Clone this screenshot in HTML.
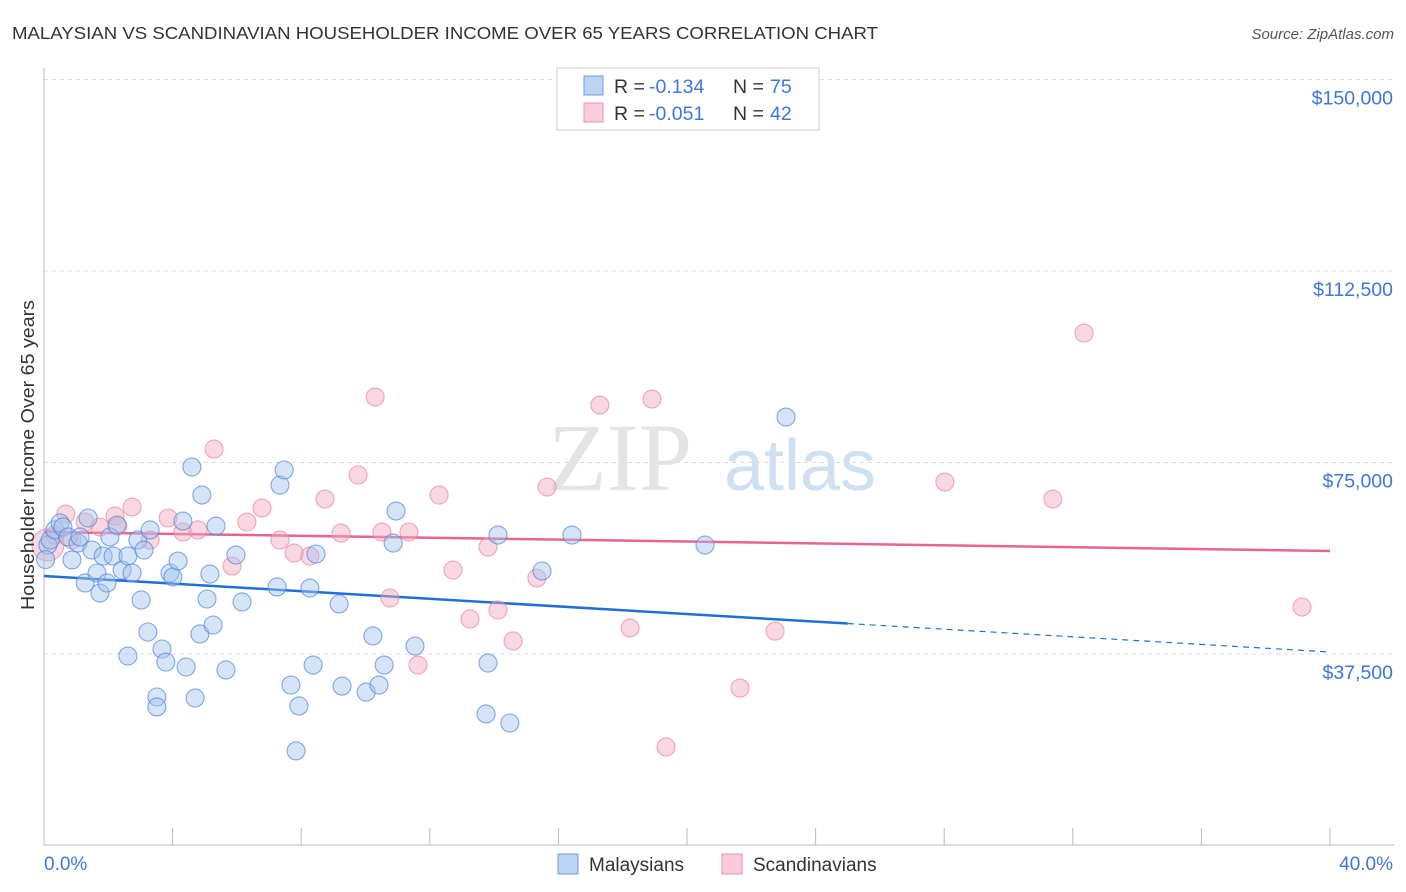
<!DOCTYPE html>
<html><head><meta charset="utf-8"><style>
body{margin:0;background:#fff;font-family:"Liberation Sans",sans-serif;}
svg{display:block}
</style></head><body>
<svg id="chart" width="1406" height="892" xmlns="http://www.w3.org/2000/svg">
<text x="12" y="39" font-size="17.5" fill="#333" textLength="866" lengthAdjust="spacingAndGlyphs">MALAYSIAN VS SCANDINAVIAN HOUSEHOLDER INCOME OVER 65 YEARS CORRELATION CHART</text>
<text x="1394" y="39" font-size="15" fill="#555" text-anchor="end" font-style="italic">Source: ZipAtlas.com</text>
<text x="620" y="490" font-size="96" fill="#e4e4e4" font-family="Liberation Serif,serif" text-anchor="middle">ZIP</text>
<text x="800" y="490" font-size="72" fill="#cfe0f3" text-anchor="middle">atlas</text>
<g id="grid"></g>
<g id="axes"></g>
<g id="trend"></g>
<g id="points"></g>
<text x="34" y="455" font-size="18" fill="#333" text-anchor="middle" textLength="310" lengthAdjust="spacingAndGlyphs" transform="rotate(-90 34 455)">Householder Income Over 65 years</text>
<g>
<rect x="557" y="68" width="262" height="62" fill="#fff" stroke="#ccc"/>
<rect x="584" y="76" width="19" height="19" fill="#bcd4f3" stroke="#6b9de0"/>
<text x="614" y="93" font-size="19.5" fill="#333">R =</text>
<text x="649" y="93" font-size="19.5" fill="#3b78d8">-0.134</text>
<text x="733" y="93" font-size="19.5" fill="#333">N =</text>
<text x="770" y="93" font-size="19.5" fill="#3b78d8">75</text>
<rect x="584" y="103" width="19" height="19" fill="#f8cdd9" stroke="#ec93ad"/>
<text x="614" y="120" font-size="19.5" fill="#333">R =</text>
<text x="649" y="120" font-size="19.5" fill="#3b78d8">-0.051</text>
<text x="733" y="120" font-size="19.5" fill="#333">N =</text>
<text x="770" y="120" font-size="19.5" fill="#3b78d8">42</text>
</g>
<g>
<rect x="558" y="854" width="20" height="20" fill="#bcd4f3" stroke="#6b9de0"/>
<text x="589" y="871" font-size="19" fill="#333">Malaysians</text>
<rect x="722" y="854" width="20" height="20" fill="#f8cdd9" stroke="#ec93ad"/>
<text x="753" y="871" font-size="19" fill="#333">Scandinavians</text>
</g>
</svg>
<script>
const yTicks=[37500,75000,112500,150000];
const yTickLabels=["$37,500","$75,000","$112,500","$150,000"];
const xTickLabels=["0.0%","40.0%"];
const malaysianX=[0.12,0.19,0.34,0.50,0.59,0.75,0.87,1.06,1.12,1.28,1.37,1.49,1.65,1.74,1.84,1.96,2.05,2.15,2.27,2.43,2.61,2.61,2.74,2.92,3.02,3.11,3.23,3.30,3.51,3.51,3.67,3.79,3.92,4.01,4.17,4.32,4.42,4.60,4.70,4.85,4.91,5.07,5.16,5.26,5.35,5.66,5.97,6.16,7.25,7.34,7.47,7.68,7.84,7.93,8.27,8.37,8.46,9.18,9.27,10.02,10.23,10.42,10.58,10.86,10.95,11.54,13.75,13.81,14.12,14.49,15.49,16.42,20.56,23.08,0.05];
const malaysianY=[58850,59830,61790,63160,62380,60420,55920,59230,60420,51410,64130,57860,53360,49440,56680,51410,60420,56680,62760,53940,56680,37100,53360,59830,48080,57860,41810,61790,29080,27130,38480,35930,53360,52580,55700,63530,34950,74110,28880,41420,68630,48270,53160,43180,62560,34370,56880,47690,50630,70590,73530,31420,18520,27330,50420,35340,57080,47300,31220,30040,41030,31420,35340,59230,65500,39060,25760,35730,60800,23990,53750,60800,58840,83900,56000];
const scandX=[0.12,0.34,0.68,0.87,1.28,1.74,2.21,2.30,2.74,3.30,3.86,4.32,4.79,5.29,5.85,6.31,6.78,7.34,7.78,8.27,8.74,9.24,9.77,10.30,10.51,10.76,11.35,11.63,12.29,12.72,13.25,13.81,14.12,14.59,15.33,15.65,17.29,18.23,18.91,19.35,21.65,22.74,28.02,31.38,32.35,39.13];
const scandY=[58850,60800,64910,59830,63350,62370,64520,62560,66280,59830,64130,61380,61790,77630,54720,63350,66080,59830,57270,56680,67850,61180,72550,87820,61380,48470,61380,35340,68630,53940,44360,58450,46120,40050,52380,70200,86250,42600,87430,19300,30830,41990,71170,67850,100340,46700];
const trendM=[52770,37890], trendS=[61380,57660], solidEnd=25;
const X0=44,X1=1330,Y0=845.5,pxPerDollar=191.5/37500;
const sx=v=>X0+(X1-X0)*v/40;
const sy=v=>Y0-v*pxPerDollar;
const NS="http://www.w3.org/2000/svg";
function mk(tag,attrs,parent){const e=document.createElementNS(NS,tag);for(const k in attrs)e.setAttribute(k,attrs[k]);document.getElementById(parent).appendChild(e);return e;}
yTicks.forEach((t,i)=>{
 const g=mk('line',{x1:X0,x2:1394,y1:sy(t),y2:sy(t),stroke:'#ddd','stroke-dasharray':'4,4'},'grid');
 
 
 const l=mk('text',{x:1393,y:sy(t)+25,'font-size':19.5,fill:'#3b78d8','text-anchor':'end'},'axes');
 l.textContent=yTickLabels[i];
 
 
});
const ax=mk('line',{x1:X0,x2:1394,y1:845,y2:845,stroke:'#bbb'},'axes');


const ay=mk('line',{x1:X0,x2:X0,y1:68,y2:845,stroke:'#bbb'},'axes');


for(let i=1;i<=10;i++){
 const t=mk('line',{x1:sx(i*4),x2:sx(i*4),y1:828,y2:845,stroke:'#bbb'},'axes');
 
 
}
[[0,'start',X0],[40,'end',1393]].forEach((d,i)=>{
 const l=mk('text',{x:d[2],y:870,'font-size':19,fill:'#3b78d8','text-anchor':d[1]},'axes');
 l.textContent=xTickLabels[i];
 
 
});
function pts(xs,ys,fill,stroke,name,r0){
 xs.forEach((x,i)=>{
  const c=mk('circle',{cx:sx(x),cy:sy(ys[i]),r:(i===0&&r0)?r0:9,fill:fill,'fill-opacity':0.45,stroke:stroke,'stroke-width':1.1,'stroke-opacity':0.7},'points');
  
  
 });
}
pts(scandX,scandY,'#f4a9bf','#e8859f','scandinavian-point',16);
pts(malaysianX,malaysianY,'#a4c4ee','#4f86da','malaysian-point');
const lm=t=>trendM[0]+(trendM[1]-trendM[0])*t/40;
const b1=mk('line',{x1:sx(0),y1:sy(lm(0)),x2:sx(solidEnd),y2:sy(lm(solidEnd)),stroke:'#1f6fd6','stroke-width':2.5},'trend');


const b2=mk('line',{x1:sx(solidEnd),y1:sy(lm(solidEnd)),x2:sx(40),y2:sy(lm(40)),stroke:'#1f6fd6','stroke-width':1.2,'stroke-dasharray':'6,5'},'trend');


const p1=mk('line',{x1:sx(0),y1:sy(trendS[0]),x2:sx(40),y2:sy(trendS[1]),stroke:'#e8648e','stroke-width':2.5},'trend');


</script>
</body></html>
